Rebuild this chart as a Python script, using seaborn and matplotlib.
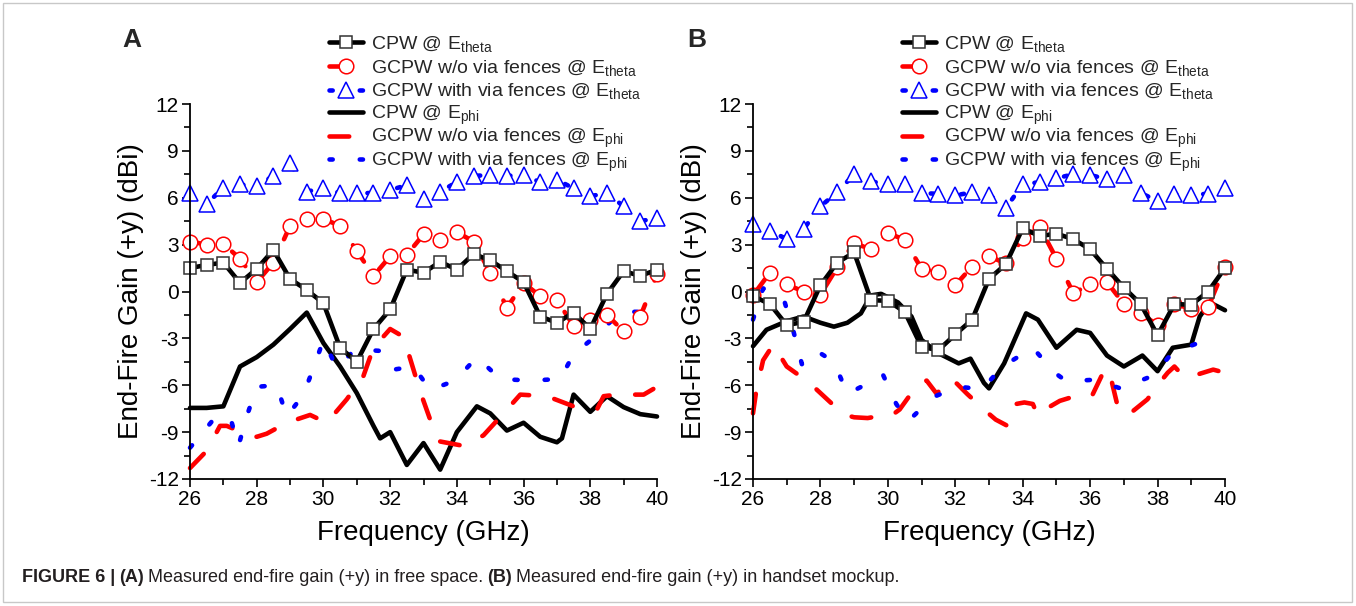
import matplotlib
matplotlib.use("Agg")
import matplotlib.pyplot as plt
from matplotlib.patches import Rectangle
from matplotlib.ticker import MultipleLocator
import seaborn as sns

# === Data (frequency in GHz, gain in dBi) ===
freq = [26.0, 26.5, 27.0, 27.5, 28.0, 28.5, 29.0, 29.5, 30.0, 30.5,
        31.0, 31.5, 32.0, 32.5, 33.0, 33.5, 34.0, 34.5, 35.0, 35.5,
        36.0, 36.5, 37.0, 37.5, 38.0, 38.5, 39.0, 39.5, 40.0]

# --- (A) free space, E_theta (markers every 0.5 GHz) ---
a_cpw_theta = [1.5, 1.7, 1.85, 0.55, 1.45, 2.65, 0.8, 0.1, -0.75, -3.6,
               -4.5, -2.4, -1.15, 1.4, 1.2, 1.9, 1.4, 2.4, 2.0, 1.3,
               0.6, -1.6, -2.0, -1.35, -2.4, -0.15, 1.3, 1.0, 1.4]
a_gcpw_theta = [3.2, 3.0, 3.05, 2.1, 0.6, 1.85, 4.2, 4.65, 4.65, 4.2,
                2.6, 1.0, 2.25, 2.35, 3.65, 3.3, 3.8, 3.2, 1.2, -1.05,
                0.55, -0.3, -0.55, -2.2, -1.85, -1.5, -2.55, -1.6, 1.1]
a_via_theta = [6.3, 5.6, 6.65, 6.85, 6.75, 7.4, 8.2, 6.4, 6.6, 6.3,
               6.3, 6.3, 6.5, 6.8, 5.9, 6.4, 7.0, 7.4, 7.45, 7.4,
               7.45, 7.0, 7.15, 6.6, 6.1, 6.3, 5.45, 4.5, 4.7]

# --- (A) free space, E_phi ---
a_cpw_phi_f = [26, 26.5, 27, 27.5, 28, 28.5, 29, 29.5, 30, 30.5, 31, 31.5, 31.7,
               32, 32.5, 33, 33.5, 34, 34.6, 35, 35.5, 36, 36.5, 37, 37.15,
               37.5, 38, 38.5, 39, 39.5, 40]
a_cpw_phi = [-7.45, -7.45, -7.35, -4.8, -4.2, -3.4, -2.4, -1.35, -3.3, -4.8, -6.5,
             -8.6, -9.4, -9.0, -11.1, -9.7, -11.4, -9.0, -7.35, -7.8, -8.9, -8.4,
             -9.3, -9.65, -9.4, -6.6, -7.7, -6.7, -7.4, -7.85, -8.0]
a_gcpw_phi_f = [26, 26.5, 26.9, 27.1, 27.6, 28, 28.3, 28.9, 29.6, 30.1, 30.7, 31.2,
                31.5, 32, 32.4, 32.7, 32.9, 33.2, 33.5, 34.25, 34.8, 35.4, 35.9,
                36.7, 37.5, 38.2, 38.4, 38.8, 39.6, 40]
a_gcpw_phi = [-11.3, -10.2, -8.6, -8.6, -9.05, -9.3, -9.1, -8.4, -7.9, -8.4, -6.9,
              -5.4, -3.6, -2.4, -2.9, -5.0, -6.4, -8.2, -9.6, -9.9, -9.2, -7.8,
              -6.6, -6.7, -7.35, -7.55, -6.7, -6.6, -6.6, -6.1]
a_via_phi_f = [26, 26.7, 27.2, 27.45, 27.7, 28, 28.6, 28.9, 29.4, 29.7, 30, 30.4,
               30.95, 31.7, 32.1, 32.7, 33.2, 33.95, 34.6, 35.3, 36.2, 37.1, 37.5,
               38.2, 38.9, 39.7, 40]
a_via_phi = [-10.0, -8.2, -8.0, -9.9, -8.0, -6.1, -6.0, -8.0, -6.6, -4.9, -3.1,
             -4.9, -3.7, -3.8, -5.0, -4.8, -6.3, -5.7, -4.2, -5.6, -5.7, -5.6,
             -4.0, -2.8, -1.3, -1.3, -1.1]

# --- (B) handset mockup, E_theta ---
b_cpw_theta = [-0.3, -0.8, -2.15, -1.95, 0.4, 1.85, 2.5, -0.55, -0.6, -1.3,
               -3.55, -3.75, -2.75, -1.8, 0.8, 1.75, 4.05, 3.55, 3.7, 3.35,
               2.7, 1.45, 0.25, -0.8, -2.8, -0.8, -0.85, 0.0, 1.5]
b_gcpw_theta = [-0.25, 1.2, 0.45, 0.0, -0.2, 1.55, 3.1, 2.7, 3.75, 3.3,
                1.45, 1.25, 0.4, 1.6, 2.25, 1.8, 3.4, 4.15, 2.1, -0.1,
                0.45, 0.6, -0.8, -1.4, -2.15, -0.8, -1.1, -1.0, 1.6]
b_via_theta = [4.3, 3.9, 3.35, 4.0, 5.45, 6.35, 7.5, 7.05, 6.85, 6.85,
               6.3, 6.25, 6.15, 6.35, 6.2, 5.35, 6.85, 7.0, 7.25, 7.5,
               7.45, 7.2, 7.45, 6.3, 5.8, 6.25, 6.2, 6.25, 6.65]

# --- (B) handset mockup, E_phi ---
b_cpw_phi_f = [26, 26.4, 27, 27.5, 28, 28.4, 28.8, 29.2, 29.5, 29.8, 30.3, 30.7,
               31, 31.5, 32.1, 32.45, 32.85, 33, 33.45, 34.1, 34.45, 35, 35.6, 36,
               36.5, 37, 37.55, 38, 38.45, 39, 39.25, 39.55, 40]
b_cpw_phi = [-3.5, -2.45, -1.9, -1.6, -2.0, -2.25, -2.0, -1.4, -0.25, -0.15, -0.7,
             -1.6, -3.1, -3.95, -4.6, -4.3, -5.85, -6.2, -4.6, -1.4, -1.8, -3.6,
             -2.45, -2.65, -4.1, -4.8, -4.1, -5.1, -3.6, -3.4, -1.6, -0.7, -1.2]
b_gcpw_phi_f = [26, 26.1, 26.3, 26.6, 27, 27.65, 28, 28.35, 28.65, 29, 29.4, 29.8,
                30.1, 30.35, 30.6, 30.9, 31.15, 31.45, 31.8, 32.05, 32.35, 32.9,
                33.2, 33.55, 33.8, 34.05, 34.3, 34.45, 34.7, 35.1, 35.55, 36.05,
                36.45, 36.6, 36.8, 37.1, 37.7, 38, 38.3, 38.5, 38.8, 39.2, 39.65, 40]
b_gcpw_phi = [-7.8, -6.3, -4.4, -3.4, -4.8, -5.8, -6.5, -7.2, -7.85, -8.05, -8.1,
              -7.95, -7.95, -7.55, -6.8, -5.9, -5.7, -6.55, -5.6, -5.9, -6.55,
              -7.65, -8.2, -8.6, -7.2, -7.1, -7.2, -7.95, -7.5, -7.0, -6.7, -6.7,
              -4.9, -5.4, -7.2, -7.95, -6.9, -6.0, -5.2, -4.8, -5.5, -5.3, -5.0, -5.2]
b_via_phi_f = [26, 26.3, 26.9, 27.2, 27.45, 27.85, 28.4, 28.8, 29.3, 29.85, 30.25,
               30.6, 31.35, 32.1, 32.8, 33.4, 34.3, 34.95, 35.3, 36.1, 36.9, 37.85,
               38.45, 39.2, 39.5]
b_via_phi = [-1.8, 0.2, -0.4, -2.55, -4.65, -3.75, -4.5, -6.55, -6.0, -5.3, -7.2,
             -8.3, -6.75, -6.1, -6.25, -4.8, -3.6, -5.2, -5.75, -5.65, -6.2, -5.4,
             -3.9, -3.3, -3.0]

labels = ["CPW @ E$_{\\mathrm{theta}}$",
          "GCPW w/o via fences @ E$_{\\mathrm{theta}}$",
          "GCPW with via fences @ E$_{\\mathrm{theta}}$",
          "CPW @ E$_{\\mathrm{phi}}$",
          "GCPW w/o via fences @ E$_{\\mathrm{phi}}$",
          "GCPW with via fences @ E$_{\\mathrm{phi}}$"]

# === Style ===
sns.set_theme(style="ticks")
plt.rcParams["font.family"] = ["Liberation Sans", "DejaVu Sans"]
plt.rcParams["mathtext.fontset"] = "custom"
plt.rcParams["mathtext.rm"] = "Liberation Sans"
plt.rcParams["mathtext.it"] = "Liberation Sans:italic"
plt.rcParams["mathtext.bf"] = "Liberation Sans:bold"
plt.rcParams["axes.unicode_minus"] = False

LW = 3.3
RED = "#ff0000"
BLUE = "#0000ff"
RED_DASH = (0, (4.3, 5.6))
BLUE_DOT = (0, (0.7, 5.9))


def draw_panel(ax, theta, phi):
    cpw_t, gcpw_t, via_t = theta
    (f1, cpw_p), (f2, gcpw_p), (f3, via_p) = phi
    common = dict(ax=ax, legend=False, estimator=None, clip_on=False)

    # E_phi curves first (underneath)
    sns.lineplot(x=f1, y=cpw_p, color="black", linewidth=LW, label=labels[3],
                 solid_joinstyle="round", **common)
    sns.lineplot(x=f2, y=gcpw_p, color=RED, linewidth=LW, linestyle=RED_DASH,
                 dash_capstyle="round", label=labels[4], **common)
    sns.lineplot(x=f3, y=via_p, color=BLUE, linewidth=LW, linestyle=BLUE_DOT,
                 dash_capstyle="round", label=labels[5], **common)

    # E_theta curves with open markers
    sns.lineplot(x=freq, y=via_t, color=BLUE, linewidth=LW, linestyle=BLUE_DOT,
                 dash_capstyle="round", marker="^", markersize=11,
                 markerfacecolor="white", markeredgecolor=BLUE,
                 markeredgewidth=1.1, label=labels[2], **common)
    sns.lineplot(x=freq, y=gcpw_t, color=RED, linewidth=LW, linestyle=RED_DASH,
                 dash_capstyle="round", marker="o", markersize=10.5,
                 markerfacecolor="white", markeredgecolor=RED,
                 markeredgewidth=1.1, label=labels[1], **common)
    sns.lineplot(x=freq, y=cpw_t, color="black", linewidth=LW, marker="s",
                 markersize=8.8, markerfacecolor="white", markeredgecolor="#333333",
                 markeredgewidth=1.1, label=labels[0], **common)

    ax.set_xlim(26, 40)
    ax.set_ylim(-12, 12)
    ax.xaxis.set_major_locator(MultipleLocator(2))
    ax.xaxis.set_minor_locator(MultipleLocator(1))
    ax.yaxis.set_major_locator(MultipleLocator(3))
    ax.yaxis.set_minor_locator(MultipleLocator(1.5))
    ax.tick_params(which="major", length=6, width=1.2, direction="out",
                   labelsize=15, pad=2, color="black", labelcolor="black")
    ax.tick_params(which="minor", length=4, width=1.2, direction="out", color="black")
    sns.despine(ax=ax)
    for s in ("left", "bottom"):
        ax.spines[s].set_linewidth(1.3)
        ax.spines[s].set_color("black")
    ax.set_xlabel("Frequency (GHz)", fontsize=20, color="black")
    ax.set_ylabel("End-Fire Gain (+y) (dBi)", fontsize=20, color="black")
    ax.xaxis.set_label_coords(0.5, -0.108)
    ax.yaxis.set_label_coords(-0.098, 0.5)

    handles, labs = ax.get_legend_handles_labels()
    order = [labs.index(l) for l in labels]
    return [handles[i] for i in order]


def add_legends(ax, handles, x0):
    # theta rows and phi rows in two blocks so every row has the same pitch
    kw = dict(loc="upper left", bbox_transform=fig.transFigure, frameon=False,
              fontsize=14, handlelength=1.75, handletextpad=0.4, borderpad=0,
              borderaxespad=0, numpoints=1)
    top = ax.legend(handles[:3], labels[:3], bbox_to_anchor=(x0 / W, 1 - 34 / H),
                    labelspacing=0.19, **kw)
    ax.add_artist(top)
    ax.legend(handles[3:], labels[3:], bbox_to_anchor=(x0 / W, 1 - 104 / H),
              labelspacing=0.0, **kw)


fig = plt.figure(figsize=(13.56, 6.06), dpi=100)
W, H = 1356, 606
ax_a = fig.add_axes([190 / W, 1 - 479 / H, 467 / W, 375 / H])
ax_b = fig.add_axes([753 / W, 1 - 479 / H, 472 / W, 375 / H])

h_a = draw_panel(ax_a, (a_cpw_theta, a_gcpw_theta, a_via_theta),
                 ((a_cpw_phi_f, a_cpw_phi), (a_gcpw_phi_f, a_gcpw_phi), (a_via_phi_f, a_via_phi)))
h_b = draw_panel(ax_b, (b_cpw_theta, b_gcpw_theta, b_via_theta),
                 ((b_cpw_phi_f, b_cpw_phi), (b_gcpw_phi_f, b_gcpw_phi), (b_via_phi_f, b_via_phi)))

add_legends(ax_a, h_a, 329)
add_legends(ax_b, h_b, 902)

fig.text(122 / W, 1 - 40 / H, "A", fontsize=19, fontweight="bold", va="center")
fig.text(687 / W, 1 - 40 / H, "B", fontsize=19, fontweight="bold", va="center")

# === Caption ===
renderer = fig.canvas.get_renderer()
x = 22 / W
gap = 4 / W
for txt, wt in [("FIGURE 6 |", "bold"), ("(A)", "bold"),
                ("Measured end-fire gain (+y) in free space.", "normal"),
                ("(B)", "bold"),
                ("Measured end-fire gain (+y) in handset mockup.", "normal")]:
    t = fig.text(x, 1 - 578 / H, txt, fontsize=13, fontweight=wt, va="center",
                 ha="left", color="#231f20")
    x += t.get_window_extent(renderer=renderer).width / W + gap

fig.patches.append(Rectangle((3 / W, 4 / H), 1 - 7 / W, 1 - 7 / H,
                             transform=fig.transFigure, fill=False,
                             edgecolor="#c8c8c8", linewidth=1.0))

fig.savefig("out.png", dpi=100)
